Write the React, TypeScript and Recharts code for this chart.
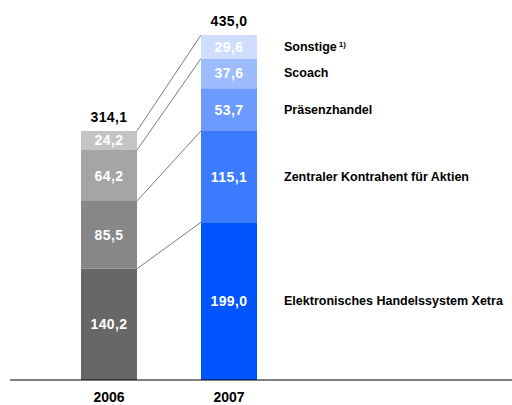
import React from 'react';
import * as RC from 'recharts';
import { BarChart, Bar, XAxis, YAxis, LabelList, Cell } from 'recharts';

// Kategorien und Werte (Mio. €)
const years = ['2006', '2007'];
const segmentNames = [
  'Elektronisches Handelssystem Xetra',
  'Zentraler Kontrahent für Aktien',
  'Präsenzhandel',
  'Scoach',
  'Sonstige',
];
const values2006 = [140.2, 85.5, 64.2, 24.2, null];
const values2007 = [199.0, 115.1, 53.7, 37.6, 29.6];
const totals = [314.1, 435.0];

// Verbindungslinien: Anzahl gestapelter Segmente 2006 -> 2007
const links = [
  [1, 1],
  [2, 2],
  [3, 4],
  [4, 5],
];

const GRAYS = ['#676767', '#878787', '#a5a5a5', '#c4c4c4', '#c4c4c4'];
const BLUES = ['#0055ff', '#3a7bff', '#6b9bff', '#9dbcff', '#cfdeff'];

const W = 512;
const H = 405;
const Y_MAX = 435;
const BAR = 56;
const PAD_L = 39;
const PAD_R = 223;
const MARGIN = { top: 35, right: 0, left: 10, bottom: 0 };
const FONT = '"Liberation Sans", Arial, sans-serif';

const keys = segmentNames.map((_, i) => `s${i}`);
const chartData = years.map((year, r) => {
  const vals = r === 0 ? values2006 : values2007;
  const row: any = { year, total: totals[r] };
  keys.forEach((k, i) => (row[k] = vals[i] ?? 0));
  return row;
});

const cum = (vals: (number | null)[], n: number) =>
  vals.slice(0, n).reduce((a: number, b) => a + (b ?? 0), 0);

// Linien zwischen den Säulen
const Connectors = () => {
  const area = RC.usePlotArea ? RC.usePlotArea() : null;
  const off = RC.useOffset ? RC.useOffset() : null;
  const plot: any = area ?? (off ? { x: off.left, y: off.top, width: off.width, height: off.height } : null);
  if (!plot) return null;
  const band = (plot.width - PAD_L - PAD_R) / years.length;
  const yPx = (v: number) => plot.y + plot.height * (1 - v / Y_MAX);
  const x0 = plot.x + PAD_L + band * 0.5 + BAR / 2;
  const x1 = plot.x + PAD_L + band * 1.5 - BAR / 2;
  return (
    <g>
      {links.map(([a, b], i) => (
        <line
          key={i}
          x1={x0}
          y1={yPx(cum(values2006, a))}
          x2={x1}
          y2={yPx(cum(values2007, b))}
          stroke="#7a7a7a"
          strokeWidth={1}
        />
      ))}
    </g>
  );
};

const makeLabel = (seg: number) => (props: any) => {
  const { x, y, width, height, value } = props;
  if (!value) return null;
  // Zeile über den Wert bestimmen (Index ist bei Nullwerten unzuverlässig)
  const r = chartData.findIndex((row) => row[keys[seg]] === value);
  const row = chartData[r];
  const topSeg = keys.reduce((acc, k, i) => (row[k] ? i : acc), 0);
  const cx = x + width / 2;
  const cy = y + height / 2;
  return (
    <g>
      <text
        x={cx}
        y={cy}
        dy={5}
        textAnchor="middle"
        fill="#fff"
        fontFamily={FONT}
        fontWeight="bold"
        fontSize={14}
        letterSpacing={0.4}
      >
        {value.toFixed(1).replace('.', ',')}
      </text>
      {seg === topSeg && (
        <text
          x={cx}
          y={y - 9}
          textAnchor="middle"
          fill="#000"
          fontFamily={FONT}
          fontWeight="bold"
          fontSize={14}
          letterSpacing={0.4}
        >
          {row.total.toFixed(1).replace('.', ',')}
        </text>
      )}
      {r === 1 && (
        <text x={x + width + 27} y={cy} dy={4} fill="#000" fontFamily={FONT} fontWeight="bold" fontSize={12.5}>
          {segmentNames[seg]}
          {seg === 4 && (
            <tspan fontSize={8} dy={-4} dx={2}>
              1)
            </tspan>
          )}
        </text>
      )}
    </g>
  );
};

const YearTick = ({ x, y, payload }: any) => (
  <text x={x} y={y} dy={14} textAnchor="middle" fill="#000" fontFamily={FONT} fontWeight="bold" fontSize={14}>
    {payload.value}
  </text>
);

export default function App() {
  return (
    <div style={{ width: W, height: H, background: '#fff' }}>
      <style>{'body{margin:0}'}</style>
      <BarChart width={W} height={H} data={chartData} margin={MARGIN} barSize={BAR}>
        <XAxis
          dataKey="year"
          axisLine={{ stroke: '#000', strokeWidth: 1 }}
          tickLine={false}
          tick={<YearTick />}
          padding={{ left: PAD_L, right: PAD_R }}
          height={25}
        />
        <YAxis hide domain={[0, Y_MAX]} allowDataOverflow />
        {keys.map((k, i) => (
          <Bar key={k} dataKey={k} stackId="a" isAnimationActive={false}>
            {chartData.map((_, r) => (
              <Cell key={r} fill={r === 0 ? GRAYS[i] : BLUES[i]} />
            ))}
            <LabelList dataKey={k} content={makeLabel(i)} />
          </Bar>
        ))}
        <Connectors />
      </BarChart>
    </div>
  );
}
